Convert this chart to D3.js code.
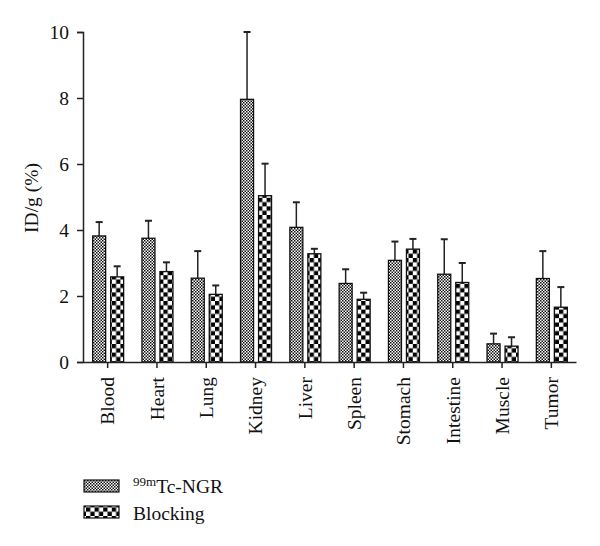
<!DOCTYPE html>
<html><head><meta charset="utf-8">
<script src="https://cdn.jsdelivr.net/npm/d3@7"></script>
<style>body{margin:0;background:#fff}svg{display:block}</style>
</head><body>
<script>
const categories = ["Blood","Heart","Lung","Kidney","Liver","Spleen","Stomach","Intestine","Muscle","Tumor"];
const ngrMean  = [3.82,3.75,2.54,7.96,4.08,2.38,3.08,2.66,0.55,2.53];
const ngrErr   = [0.42,0.53,0.82,2.04,0.76,0.43,0.57,1.06,0.31,0.83];
const blkMean  = [2.58,2.74,2.05,5.04,3.28,1.90,3.42,2.41,0.48,1.66];
const blkErr   = [0.32,0.28,0.27,0.97,0.15,0.20,0.31,0.59,0.27,0.61];
const yTicks = [0,2,4,6,8,10];

const W=600,H=546;
const svg=d3.select("body").append("svg").attr("width",W).attr("height",H);
const font="'Liberation Serif','DejaVu Serif',serif";
const ink="#222";
const fs=19.5;
const defs=svg.append("defs");
// fine checker
const p1=defs.append("pattern").attr("id","fine").attr("patternUnits","userSpaceOnUse").attr("width",3).attr("height",3);
p1.append("rect").attr("width",3).attr("height",3).attr("fill","#fff");
p1.append("rect").attr("width",1.5).attr("height",1.5).attr("fill","#111");
p1.append("rect").attr("x",1.5).attr("y",1.5).attr("width",1.5).attr("height",1.5).attr("fill","#111");
// coarse checker
const p2=defs.append("pattern").attr("id","coarse").attr("patternUnits","userSpaceOnUse").attr("width",8.6).attr("height",8.6);
p2.append("rect").attr("width",8.6).attr("height",8.6).attr("fill","#fff");
p2.append("rect").attr("width",4.3).attr("height",4.3).attr("fill","#000");
p2.append("rect").attr("x",4.3).attr("y",4.3).attr("width",4.3).attr("height",4.3).attr("fill","#000");

const x=d3.scaleBand().domain(categories).range([83,576]);
const y=d3.scaleLinear().domain([0,10]).range([362,32]);
const barW=13;

// y axis
const ya=svg.append("g").attr("transform","translate(83,0)")
  .call(d3.axisLeft(y).tickValues(yTicks).tickSize(6).tickPadding(8));
ya.select(".domain").attr("stroke",ink).attr("stroke-width",1.5);
ya.selectAll(".tick line").attr("stroke",ink).attr("stroke-width",1.5);
ya.selectAll("text").attr("font-family",font).attr("font-size",fs).attr("fill","#111");

svg.append("text").attr("transform","translate(38,198) rotate(-90)")
  .attr("text-anchor","middle").attr("font-family",font).attr("font-size",fs).attr("fill","#111").text("ID/g (%)");

// bars
const series=[
  {mean:ngrMean,err:ngrErr,fill:"url(#fine)",off:-15},
  {mean:blkMean,err:blkErr,fill:"url(#coarse)",off:3}
];
series.forEach(s=>{
  const g=svg.append("g");
  categories.forEach((c,i)=>{
    const cx=x(c)+x.bandwidth()/2+s.off;
    const top=y(s.mean[i]), et=y(s.mean[i]+s.err[i]);
    g.append("line").attr("x1",cx+barW/2).attr("x2",cx+barW/2).attr("y1",top).attr("y2",et).attr("stroke",ink).attr("stroke-width",1.5);
    g.append("line").attr("x1",cx+barW/2-3.5).attr("x2",cx+barW/2+3.5).attr("y1",et).attr("y2",et).attr("stroke",ink).attr("stroke-width",2);
    g.append("rect").attr("x",cx).attr("y",top).attr("width",barW).attr("height",y(0)-top)
      .attr("fill",s.fill).attr("stroke","#111").attr("stroke-width",1.3);
  });
});

// x axis
const xa=svg.append("g").attr("transform","translate(0,362)")
  .call(d3.axisBottom(x).tickSize(6).tickSizeOuter(0).tickPadding(8));
xa.select(".domain").attr("stroke",ink).attr("stroke-width",1.5);
xa.selectAll(".tick line").attr("stroke",ink).attr("stroke-width",1.5);
xa.selectAll("text").attr("font-family",font).attr("font-size",fs).attr("fill","#111")
  .attr("transform","rotate(-90)").attr("text-anchor","end").attr("dy","0.35em").attr("x",-15).attr("y",0);

// legend
const lg=svg.append("g");
lg.append("rect").attr("x",84).attr("y",480).attr("width",35).attr("height",12).attr("fill","url(#fine)").attr("stroke","#111").attr("stroke-width",1.2);
lg.append("rect").attr("x",84).attr("y",506).attr("width",35).attr("height",12).attr("fill","url(#coarse)").attr("stroke","#111").attr("stroke-width",1.2);
const t1=lg.append("text").attr("x",133).attr("y",493).attr("font-family",font).attr("font-size",fs).attr("fill","#111");
t1.append("tspan").attr("font-size",13).attr("dy",-7).text("99m");
t1.append("tspan").attr("dy",7).text("Tc-NGR");
lg.append("text").attr("x",133).attr("y",520).attr("font-family",font).attr("font-size",fs).attr("fill","#111").text("Blocking");
</script>
</body></html>
